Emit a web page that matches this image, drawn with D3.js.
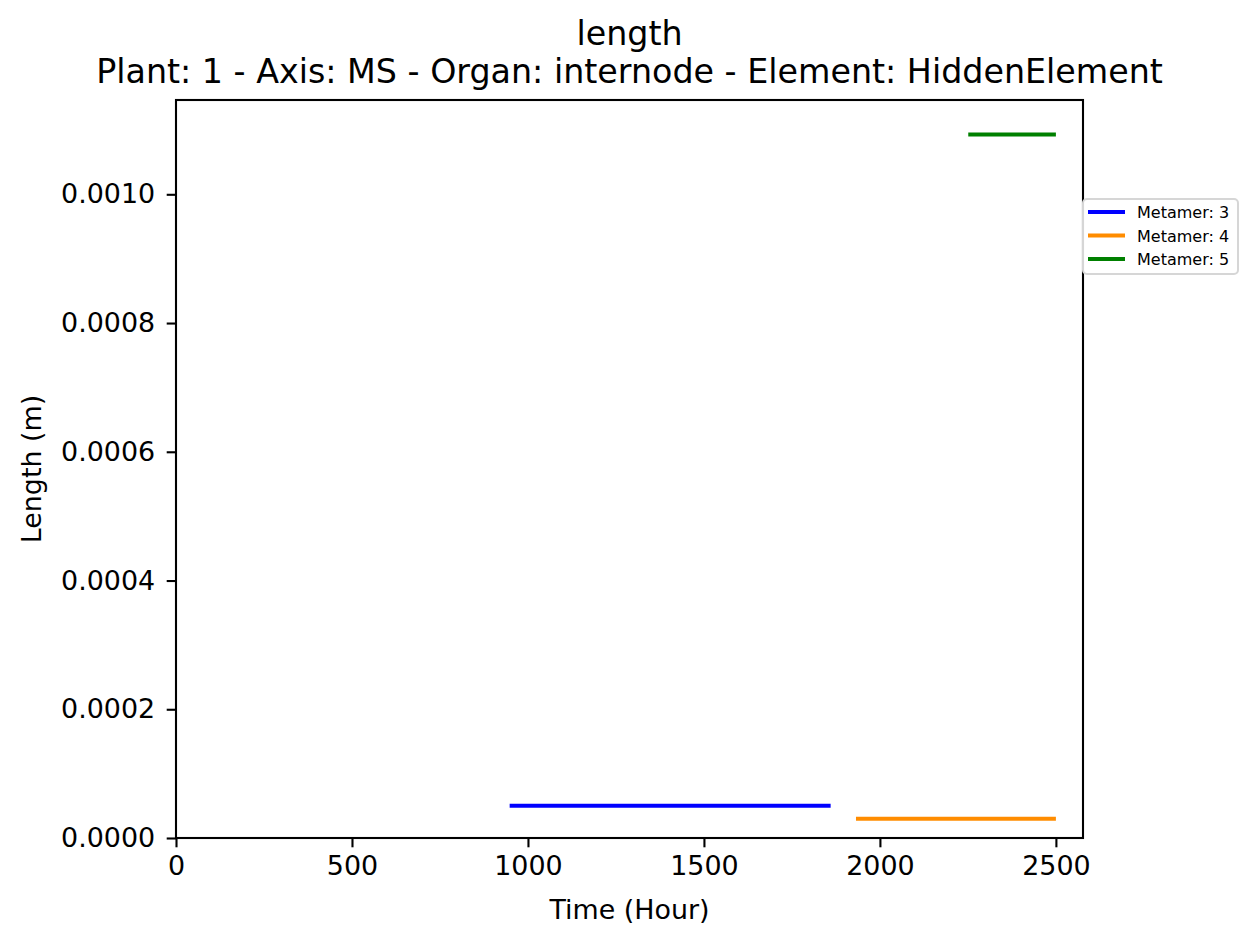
<!DOCTYPE html>
<head>
  <meta charset="utf-8">
  <script src="https://d3js.org/d3.v7.min.js"></script>
  <style>
    body { margin: 0; background: #fff; }
    svg { width: 1259px; height: 945px; font-family: "DejaVu Sans", sans-serif; }
  </style>
</head>
<body>
  <svg></svg>
  <script>
    // values
    var metamers = ['Metamer: 3', 'Metamer: 4', 'Metamer: 5'];
    var colors = ['blue', 'darkorange', 'green'];
    var times = [[948, 1860], [1932, 2500], [2251, 2500]];
    var lengths = [[0.00005, 0.00005], [0.00003, 0.00003], [0.001093, 0.001093]];
    var xTicks = [0, 500, 1000, 1500, 2000, 2500];
    var yTicks = [0, 0.0002, 0.0004, 0.0006, 0.0008, 0.0010];

    var plotL = 176, plotT = 100, plotR = 1083, plotB = 838;
    var svg = d3.select('svg');

    var x = d3.scaleLinear().domain([0, 2577]).range([plotL, plotR]);
    var y = d3.scaleLinear().domain([0, 0.0011465]).range([plotB, plotT]);

    var xAxis = svg.append('g')
      .attr('transform', 'translate(0,' + plotB + ')')
      .call(d3.axisBottom(x).tickValues(xTicks).tickSize(9.3).tickPadding(9).tickFormat(d3.format('d')));
    var yAxis = svg.append('g')
      .attr('transform', 'translate(' + plotL + ',0)')
      .call(d3.axisLeft(y).tickValues(yTicks).tickSize(9.3).tickPadding(11.5).tickFormat(d3.format('.4f')));

    [xAxis, yAxis].forEach(function(a) {
      a.select('.domain').remove();
      a.selectAll('line').attr('stroke', '#000').attr('stroke-width', 2.1);
      a.selectAll('text').attr('font-size', 26.9).attr('fill', '#000')
        .attr('font-family', '"DejaVu Sans", sans-serif');
    });

    // series
    var line = d3.line().x(function(d) { return x(d[0]); }).y(function(d) { return y(d[1]); });
    svg.append('g').selectAll('path')
      .data(metamers).enter().append('path')
      .attr('fill', 'none')
      .attr('stroke', function(d, i) { return colors[i]; })
      .attr('stroke-width', 4)
      .attr('d', function(d, i) {
        return line(d3.zip(times[i], lengths[i]));
      });

    // frame
    svg.append('rect')
      .attr('x', plotL).attr('y', plotT)
      .attr('width', plotR - plotL).attr('height', plotB - plotT)
      .attr('fill', 'none').attr('stroke', '#000').attr('stroke-width', 2.1);

    // titles
    var cx = (plotL + plotR) / 2;
    svg.append('text').attr('x', cx).attr('y', 45).attr('text-anchor', 'middle')
      .attr('font-size', 33.3).text('length');
    svg.append('text').attr('x', cx).attr('y', 83).attr('text-anchor', 'middle')
      .attr('font-size', 33.3).text('Plant: 1 - Axis: MS - Organ: internode - Element: HiddenElement');
    svg.append('text').attr('x', cx).attr('y', 919).attr('text-anchor', 'middle')
      .attr('font-size', 26.9).text('Time (Hour)');
    svg.append('text').attr('transform', 'translate(41,' + ((plotT + plotB) / 2) + ')rotate(-90)')
      .attr('text-anchor', 'middle').attr('font-size', 26.9).text('Length (m)');

    // legend
    var lg = svg.append('g').attr('transform', 'translate(1083,199)');
    lg.append('rect').attr('width', 155).attr('height', 75).attr('rx', 4)
      .attr('fill', '#fff').attr('fill-opacity', 0.8)
      .attr('stroke', '#d6d6d6').attr('stroke-width', 2);
    var items = lg.selectAll('g.item').data(metamers).enter().append('g')
      .attr('transform', function(d, i) { return 'translate(0,' + (13 + i * 23.5) + ')'; });
    items.append('line').attr('x1', 5).attr('x2', 42)
      .attr('stroke', function(d, i) { return colors[i]; }).attr('stroke-width', 4);
    items.append('text').attr('x', 54).attr('y', 6).attr('font-size', 16).text(function(d) { return d; });
  </script>
</body>
